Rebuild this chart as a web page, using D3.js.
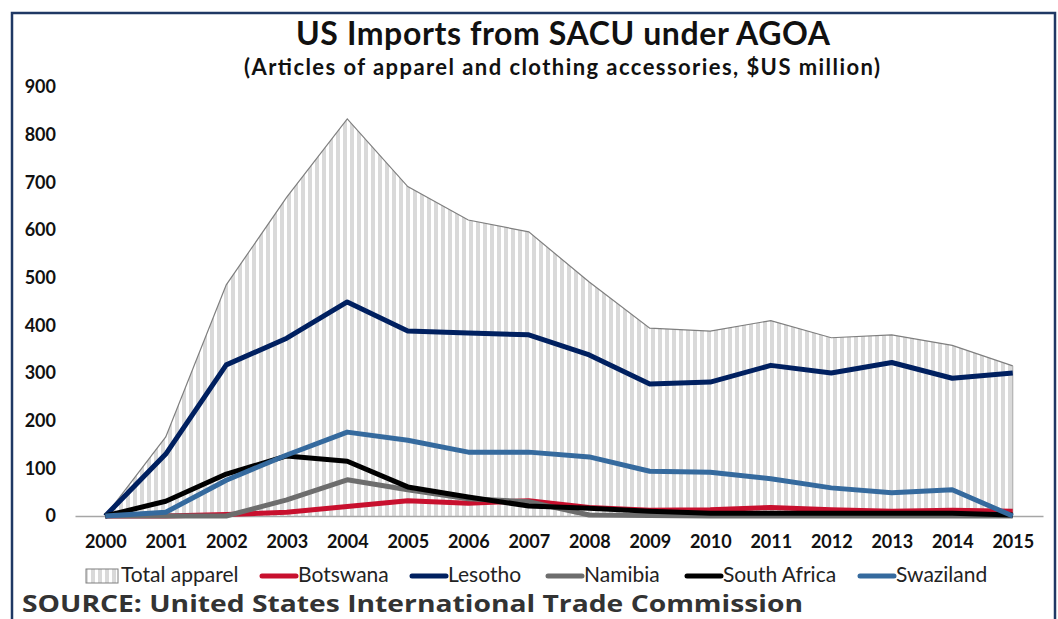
<!DOCTYPE html>
<html>
<head>
<meta charset="utf-8">
<script src="https://d3js.org/d3.v7.min.js"></script>
<style>
  body { margin: 0; background: #fff; }
  text { font-family: Lato, "Open Sans", sans-serif; }
</style>
</head>
<body>
<script>
// data ($US million)
var years = ["2000","2001","2002","2003","2004","2005","2006","2007","2008","2009","2010","2011","2012","2013","2014","2015"];
var totalApparel = [0, 166, 485, 669, 833, 691, 621, 596, 491, 394, 388, 410, 374, 380, 358, 315];
var botswana     = [0, 0, 3, 8, 20, 32, 27, 32, 18, 12, 13, 18, 13, 10, 12, 10];
var lesotho      = [0, 130, 317, 373, 449, 388, 384, 380, 338, 277, 281, 316, 300, 322, 289, 300];
var namibia      = [0, 0, 0, 34, 76, 55, 36, 30, 2, 1, 0, 0, 0, 0, 0, 0];
var southAfrica  = [0, 31, 88, 126, 115, 61, 40, 21, 16, 10, 6, 6, 6, 6, 6, 2];
var swaziland    = [0, 8, 75, 128, 176, 159, 134, 134, 124, 94, 92, 78, 59, 49, 55, 0];
var yTicks = [0, 100, 200, 300, 400, 500, 600, 700, 800, 900];

var series = [
  {name: "Botswana", values: botswana, color: "#c8102e"},
  {name: "Lesotho", values: lesotho, color: "#002060"},
  {name: "Namibia", values: namibia, color: "#6d6d6d"},
  {name: "South Africa", values: southAfrica, color: "#000000"},
  {name: "Swaziland", values: swaziland, color: "#356a9e"}
];

var W = 1058, H = 619;
var svg = d3.select("body").append("svg").attr("width", W).attr("height", H);

// stripe fill for the total area
var defs = svg.append("defs");
var pat = defs.append("pattern").attr("id", "stripes")
  .attr("patternUnits", "userSpaceOnUse").attr("width", 7).attr("height", 10);
pat.append("rect").attr("width", 7).attr("height", 10).attr("fill", "#fff");
pat.append("rect").attr("width", 4).attr("height", 10).attr("fill", "#d9d9d9");

// outer frame
svg.append("rect").attr("x", 12).attr("y", 13).attr("width", 1043).attr("height", 640)
  .attr("fill", "none").attr("stroke", "#1f3864").attr("stroke-width", 2.5);

var x = d3.scalePoint().domain(years).range([75, 1043]).padding(0.5);
var y = d3.scaleLinear().domain([0, 900]).range([516, 87]);

svg.append("text").attr("x", 563).attr("y", 45).attr("text-anchor", "middle")
  .style("font-size", "32px").style("font-weight", "bold").attr("fill", "#111")
  .attr("textLength", 534).attr("lengthAdjust", "spacing")
  .text("US Imports from SACU under AGOA");
svg.append("text").attr("x", 562).attr("y", 75).attr("text-anchor", "middle")
  .style("font-size", "22px").style("font-weight", "bold").attr("fill", "#111")
  .attr("textLength", 636).attr("lengthAdjust", "spacing")
  .text("(Articles of apparel and clothing accessories, $US million)");

// total apparel area
var area = d3.area().x(function(d, i) { return x(years[i]); })
  .y0(y(0)).y1(function(d) { return y(d); });
var topLine = d3.line().x(function(d, i) { return x(years[i]); }).y(function(d) { return y(d); });

svg.append("path").datum(totalApparel).attr("d", area).attr("fill", "url(#stripes)");
svg.append("path").datum(totalApparel).attr("d", topLine)
  .attr("fill", "none").attr("stroke", "#7f7f7f").attr("stroke-width", 1.2);
svg.append("line").attr("x1", x("2015")).attr("x2", x("2015"))
  .attr("y1", y(totalApparel[15])).attr("y2", y(0)).attr("stroke", "#a0a0a0").attr("stroke-width", 1);

// x axis
var xAxis = svg.append("g").attr("transform", "translate(0," + y(0) + ")")
  .call(d3.axisBottom(x).tickSize(0).tickPadding(19));
xAxis.select(".domain").attr("stroke", "#a6a6a6").attr("stroke-width", 1.5);
xAxis.selectAll("text").style("font-size", "18px").style("font-weight", "bold")
  .style("font-family", "Lato, sans-serif").attr("fill", "#111");

// y axis labels
var yAxis = svg.append("g").attr("transform", "translate(56,0)")
  .call(d3.axisLeft(y).tickValues(yTicks).tickSize(0).tickPadding(0));
yAxis.select(".domain").remove();
yAxis.selectAll("text").style("font-size", "18px").style("font-weight", "bold")
  .style("font-family", "Lato, sans-serif").attr("fill", "#111");

// series lines
var line = d3.line().x(function(d, i) { return x(years[i]); }).y(function(d) { return y(d); });
series.forEach(function(s) {
  svg.append("path").datum(s.values).attr("d", line)
    .attr("fill", "none").attr("stroke", s.color).attr("stroke-width", 5)
    .attr("stroke-linejoin", "round");
});

// legend
var lg = svg.append("g").attr("transform", "translate(0,576)");
lg.append("rect").attr("x", 86).attr("y", -7).attr("width", 32).attr("height", 14)
  .attr("fill", "url(#stripes)").attr("stroke", "#7f7f7f").attr("stroke-width", 1);
lg.append("text").attr("x", 121).attr("y", 6).style("font-size", "21px").attr("fill", "#222")
  .text("Total apparel");
var legendX = [262, 412, 548, 687, 860];
series.forEach(function(s, i) {
  lg.append("line").attr("x1", legendX[i]).attr("x2", legendX[i] + 34).attr("y1", 0).attr("y2", 0)
    .attr("stroke", s.color).attr("stroke-width", 5).attr("stroke-linecap", "round");
  lg.append("text").attr("x", legendX[i] + 36).attr("y", 6).style("font-size", "21px").attr("fill", "#222")
    .text(s.name);
});

svg.append("text").attr("x", 22).attr("y", 612)
  .style("font-family", "'Open Sans', sans-serif")
  .style("font-size", "24px").style("font-weight", "bold").attr("fill", "#333")
  .attr("textLength", 781).attr("lengthAdjust", "spacingAndGlyphs")
  .text("SOURCE: United States International Trade Commission");
</script>
</body>
</html>
